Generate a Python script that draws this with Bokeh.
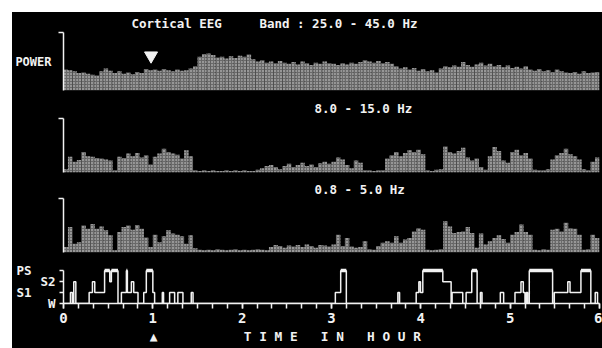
import numpy as np
from bokeh.plotting import figure
from bokeh.layouts import column, row
from bokeh.models import (Spacer, Title, LinearAxis, FixedTicker,
                          SingleIntervalTicker, Range1d)
from bokeh.embed import file_html
from bokeh.resources import INLINE

# ---------------- data ----------------
STEP = 0.05  # hours per power bin
hours = [round(i * STEP + STEP / 2, 3) for i in range(120)]

# relative power (% of panel full scale), 25.0 - 45.0 Hz
band_high = [36, 35, 33, 30, 31, 29, 27, 26, 33, 38,
             34, 30, 33, 29, 31, 28, 32, 30, 37, 35,
             36, 34, 37, 35, 33, 36, 34, 35, 38, 42,
             58, 63, 64, 61, 57, 58, 55, 59, 56, 60,
             58, 62, 54, 50, 52, 48, 50, 47, 51, 48,
             46, 49, 45, 50, 47, 44, 48, 46, 50, 47,
             46, 44, 47, 45, 48, 46, 49, 52, 50, 48,
             51, 47, 49, 46, 42, 38, 40, 36, 39, 34,
             37, 33, 35, 31, 38, 42, 40, 43, 41, 49,
             44, 41, 45, 48, 43, 46, 42, 44, 40, 43,
             39, 41, 38, 42, 36, 34, 37, 33, 35, 32,
             36, 33, 31, 30, 32, 29, 33, 30, 31, 32]

# 8.0 - 15.0 Hz
band_mid = [6, 29, 20, 23, 38, 30, 29, 27, 26, 24,
            22, 4, 29, 27, 35, 30, 36, 28, 32, 15,
            29, 35, 44, 38, 35, 33, 26, 41, 30, 4,
            3, 4, 3, 4, 3, 3, 4, 3, 4, 3,
            4, 3, 3, 5, 8, 12, 14, 10, 6, 12,
            16, 10, 14, 18, 12, 15, 10, 17, 20, 16,
            20, 28, 24, 14, 8, 22, 18, 4, 4, 3,
            4, 4, 26, 32, 38, 30, 36, 41, 38, 42,
            34, 4, 3, 5, 6, 48, 38, 35, 40, 46,
            28, 22, 26, 10, 5, 30, 47, 40, 22, 18,
            38, 42, 32, 36, 26, 5, 4, 4, 6, 24,
            32, 36, 44, 34, 30, 24, 6, 4, 20, 28]

# 0.8 - 5.0 Hz
band_low = [10, 47, 16, 19, 50, 44, 53, 44, 48, 41,
            32, 4, 38, 47, 50, 42, 51, 44, 28, 10,
            33, 19, 30, 41, 35, 33, 30, 16, 32, 8,
            5, 4, 5, 4, 6, 5, 4, 5, 6, 4,
            5, 4, 5, 6, 5, 4, 10, 14, 12, 9,
            13, 11, 14, 10, 15, 12, 9, 14, 13, 11,
            15, 33, 12, 27, 11, 9, 10, 21, 6, 5,
            12, 18, 21, 18, 30, 18, 24, 27, 39, 45,
            42, 5, 4, 5, 6, 58, 48, 36, 38, 39,
            47, 36, 9, 35, 15, 21, 27, 32, 25, 18,
            33, 38, 52, 38, 33, 5, 4, 6, 5, 42,
            44, 39, 55, 45, 44, 33, 5, 6, 33, 27]

# hypnogram: stage start times (h) and stage (0=W, 1=S1, 2=S2, 3=PS)
hyp_t = [0.0, 0.078, 0.10, 0.115, 0.138, 0.287, 0.324, 0.35, 0.46, 0.518,
         0.536, 0.61, 0.648, 0.704, 0.715, 0.76, 0.786, 0.834, 0.898, 0.927,
         1.0, 1.02, 1.106, 1.12, 1.188, 1.244, 1.28, 1.337, 1.43, 1.45,
         3.043, 3.103, 3.166, 3.743, 3.762, 3.948, 3.978, 3.996, 4.022, 4.246,
         4.339, 4.35, 4.469, 4.507, 4.57, 4.63, 4.667, 4.685, 4.89, 4.927,
         5.054, 5.121, 5.147, 5.166, 5.18, 5.196, 5.214, 5.475, 5.494, 5.645,
         5.67, 5.792, 5.903, 5.952, 5.978]
hyp_s = [0, 1, 0, 2, 0, 1, 2, 1, 3, 2,
         3, 0, 1, 3, 1, 2, 1, 0, 1, 3,
         1, 0, 1, 0, 1, 0, 1, 0, 1, 0,
         1, 3, 0, 1, 0, 1, 2, 1, 3, 2,
         0, 1, 0, 1, 3, 0, 1, 0, 1, 0,
         1, 2, 1, 0, 1, 0, 3, 0, 1, 2,
         1, 3, 0, 1, 0]
T_END = 6.0

NB = "\u00a0"
title_text = "Cortical EEG" + NB * 5 + "Band : 25.0 - 45.0 Hz"
band_names = ["8.0 - 15.0 Hz", "0.8 - 5.0 Hz"]
stage_names = ["W", "S1", "S2", "PS"]
time_label = NB.join("TIME") + NB * 3 + NB.join("IN") + NB * 3 + NB.join("HOUR")
marker_hours = [0.98, 1.01]   # ▼ (top) and ▲ (bottom) markers
time_label_hour = 3.01        # centre of the time-axis caption

# ---------------- style ----------------
FG = "#f2f2f2"
FILL = "#6a6a6a"
HATCH = "#d8d8d8"
MONO = "DejaVu Sans Mono"
W = 590

x_range = Range1d(0, T_END)


def base_fig(height, top, bottom, y_range, x_axis=None):
    p = figure(width=W, height=height, x_range=x_range, y_range=y_range,
               output_backend="svg", toolbar_location=None, title=None,
               x_axis_location=x_axis,
               min_border_left=50, min_border_right=3,
               min_border_top=top, min_border_bottom=bottom,
               background_fill_color="black", border_fill_color="black")
    p.outline_line_color = None
    p.grid.visible = False
    return p


def style_axis(ax, ticks, tick_out, labels, standoff=4):
    ax.ticker = FixedTicker(ticks=ticks)
    ax.axis_line_color = FG
    ax.axis_line_width = 1.5
    ax.major_tick_line_color = FG
    ax.major_tick_line_width = 1.5
    ax.major_tick_out = tick_out
    ax.major_tick_in = 0
    ax.minor_tick_line_color = None
    ax.major_label_overrides = labels
    ax.major_label_standoff = standoff
    ax.major_label_text_color = FG
    ax.major_label_text_font = MONO
    ax.major_label_text_font_style = "bold"
    ax.major_label_text_font_size = "12.5px"


def add_title(p, text, offset, standoff):
    p.add_layout(Title(text=text, align="left", offset=offset, standoff=standoff,
                       text_color=FG, text_font=MONO, text_font_style="bold",
                       text_font_size="12.5px"), "above")


def power_fig(vals, height):
    p = base_fig(height, 20, 5, Range1d(0, 100))
    p.vbar(x=hours, top=vals, bottom=0, width=STEP, fill_color=FILL,
           line_color=None, hatch_pattern="dot", hatch_color=HATCH,
           hatch_scale=3, hatch_weight=1.2)
    style_axis(p.yaxis[0], [100], 5, {100: ""}, standoff=0)
    return p


p1 = power_fig(band_high, 83)
p1.scatter(x=marker_hours[:1], y=[60], marker="inverted_triangle", size=13,
           color=FG)
add_title(p1, title_text, 68, 3)
ya = p1.yaxis[0]
ya.axis_label = "POWER"
ya.axis_label_orientation = "horizontal"
ya.axis_label_standoff = 7
ya.axis_label_text_color = FG
ya.axis_label_text_font = MONO
ya.axis_label_text_font_style = "bold"
ya.axis_label_text_font_size = "12px"

p2 = power_fig(band_mid, 82)
add_title(p2, band_names[0], 251, 6)

p3 = power_fig(band_low, 80)
add_title(p3, band_names[1], 251, 4)

# hypnogram
p4 = base_fig(91, 8, 45, Range1d(0, 3.49), x_axis="below")
p4.step(x=hyp_t + [T_END], y=hyp_s + [hyp_s[-1]], mode="after",
        line_color=FG, line_width=1.5)
ps_l = [hyp_t[i] for i in range(len(hyp_t)) if hyp_s[i] == 3]
ps_r = [(hyp_t + [T_END])[i + 1] for i in range(len(hyp_t)) if hyp_s[i] == 3]
p4.quad(left=ps_l, right=ps_r, bottom=2.88, top=3.2, fill_color=FG,
        line_color=None)

# inner stage axis: W and S2 labels; outer axis: S1 and PS labels
yin = p4.yaxis[0]
style_axis(yin, [0, 1, 2, 3], 4,
           {0: stage_names[0], 1: "", 2: stage_names[2], 3: ""}, standoff=4)
yin.bounds = (0, 3)
yout = LinearAxis()
style_axis(yout, [1, 3], 0, {1: stage_names[1], 3: stage_names[3]}, standoff=6)
yout.axis_line_color = None
yout.major_tick_line_color = None
p4.add_layout(yout, "left")

xax = p4.xaxis[0]
xax.ticker = SingleIntervalTicker(interval=1, num_minor_ticks=6)
xax.axis_line_color = FG
xax.axis_line_width = 1.5
xax.major_tick_line_color = FG
xax.minor_tick_line_color = FG
xax.major_tick_line_width = 1.5
xax.minor_tick_line_width = 1.5
xax.major_tick_out = 5
xax.major_tick_in = 0
xax.minor_tick_out = 5
xax.minor_tick_in = 0
xax.major_label_standoff = 4
xax.major_label_text_color = FG
xax.major_label_text_font = MONO
xax.major_label_text_font_style = "bold"
xax.major_label_text_font_size = "14px"

# second row under the time axis: the ▲ marker and the caption
xcap = LinearAxis()
style_axis(xcap, [marker_hours[1], time_label_hour], 0,
           {marker_hours[1]: "\u25b2", time_label_hour: time_label}, standoff=3)
xcap.axis_line_color = None
xcap.major_tick_line_color = None
xcap.major_label_text_font_size = "12.8px"
p4.add_layout(xcap, "below")

layout = column(Spacer(height=12, width=602),
                row(Spacer(width=12, height=336),
                    column(p1, p2, p3, p4, styles={"background-color": "black"})))

open("out.html", "w").write(file_html(layout, INLINE))
